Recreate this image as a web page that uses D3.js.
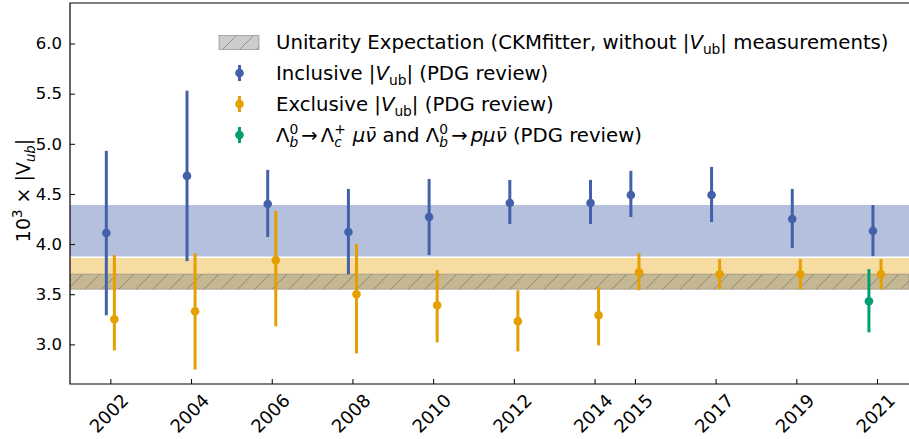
<!DOCTYPE html>
<html lang="en">
<head>
  <meta charset="UTF-8">
  <title>|Vub| history</title>
  <script src="https://d3js.org/d3.v7.min.js"></script>
  <style>
    body { margin: 0; padding: 0; background: #fff; }
    svg text { font-family: "DejaVu Sans", sans-serif; fill: #000; }
  </style>
</head>
<body>
  <div id="chart"></div>
  <script>
    // tick years on the x axis
    const years = [2002, 2004, 2006, 2008, 2010, 2012, 2014, 2015, 2017, 2019, 2021];

    // inclusive |Vub| (PDG review)
    const inclVal = [4.11, 4.68, 4.40, 4.12, 4.27, 4.41, 4.41, 4.49, 4.49, 4.25, 4.13];
    const inclLo  = [3.29, 3.83, 4.07, 3.70, 3.89, 4.20, 4.20, 4.27, 4.22, 3.96, 3.88];
    const inclHi  = [4.93, 5.53, 4.74, 4.55, 4.65, 4.64, 4.64, 4.73, 4.77, 4.55, 4.39];

    // exclusive |Vub| (PDG review)
    const exclVal = [3.25, 3.33, 3.84, 3.50, 3.39, 3.23, 3.29, 3.72, 3.70, 3.70, 3.70];
    const exclLo  = [2.94, 2.75, 3.18, 2.91, 3.02, 2.93, 2.99, 3.54, 3.55, 3.55, 3.55];
    const exclHi  = [3.89, 3.91, 4.33, 4.00, 3.74, 3.54, 3.57, 3.91, 3.85, 3.85, 3.85];

    // Lambda_b result
    const lbYears = [2021];
    const lbVal = [3.43];
    const lbLo  = [3.12];
    const lbHi  = [3.75];

    // horizontal bands [low, high]
    const inclBand = [3.87, 4.39];
    const exclBand = [3.55, 3.87];
    const ckmBand  = [3.55, 3.70];

    const yTicks = [3.0, 3.5, 4.0, 4.5, 5.0, 5.5, 6.0];

    const W = 909, H = 439;
    const mLeft = 70, mTop = 3, mBottom = 384;

    const blue = "#4361ab", orange = "#e69f00", green = "#009e73";

    const svg = d3.select("#chart").append("svg")
      .attr("width", W).attr("height", H);

    const x = d3.scaleLinear().domain([2001, 2022]).range([mLeft, mLeft + 21 * 40.35]);
    const y = d3.scaleLinear().domain([2.605, 6.404]).range([mBottom, mTop]);

    const defs = svg.append("defs");
    const hatch = defs.append("pattern")
      .attr("id", "hatch")
      .attr("patternUnits", "userSpaceOnUse")
      .attr("width", 17).attr("height", 17);
    hatch.append("path")
      .attr("d", "M-1,18 L18,-1 M-9,9 L9,-9 M8,26 L26,8")
      .attr("stroke", "#6e6e6e").attr("stroke-opacity", 0.6).attr("stroke-width", 1);

    defs.append("clipPath").attr("id", "plotclip")
      .append("rect").attr("x", mLeft).attr("y", mTop).attr("width", W - mLeft).attr("height", mBottom - mTop);

    const plot = svg.append("g").attr("clip-path", "url(#plotclip)");

    // bands
    plot.append("rect")
      .attr("x", mLeft).attr("width", W - mLeft)
      .attr("y", y(inclBand[1])).attr("height", y(inclBand[0]) - y(inclBand[1]))
      .attr("fill", blue).attr("fill-opacity", 0.4);
    plot.append("rect")
      .attr("x", mLeft).attr("width", W - mLeft)
      .attr("y", y(exclBand[1])).attr("height", y(exclBand[0]) - y(exclBand[1]))
      .attr("fill", orange).attr("fill-opacity", 0.37);
    plot.append("line")
      .attr("x1", mLeft).attr("x2", W)
      .attr("y1", y(exclBand[1])).attr("y2", y(exclBand[1]))
      .attr("stroke", "#fff").attr("stroke-width", 1.5);
    plot.append("rect")
      .attr("x", mLeft).attr("width", W - mLeft)
      .attr("y", y(ckmBand[1])).attr("height", y(ckmBand[0]) - y(ckmBand[1]))
      .attr("fill", "#808080").attr("fill-opacity", 0.4)
      .attr("stroke", "#808080").attr("stroke-opacity", 0.5).attr("stroke-width", 1);
    plot.append("rect")
      .attr("x", mLeft).attr("width", W - mLeft)
      .attr("y", y(ckmBand[1])).attr("height", y(ckmBand[0]) - y(ckmBand[1]))
      .attr("fill", "url(#hatch)");

    function errSeries(xs, vals, lo, hi, shift, color) {
      const g = plot.append("g");
      const d = xs.map((yr, i) => ({ yr: yr + shift, v: vals[i], lo: lo[i], hi: hi[i] }));
      g.selectAll("line").data(d).join("line")
        .attr("x1", p => x(p.yr)).attr("x2", p => x(p.yr))
        .attr("y1", p => y(p.lo)).attr("y2", p => y(p.hi))
        .attr("stroke", color).attr("stroke-width", 3);
      g.selectAll("circle").data(d).join("circle")
        .attr("cx", p => x(p.yr)).attr("cy", p => y(p.v))
        .attr("r", 4.3).attr("fill", color);
    }
    errSeries(years, inclVal, inclLo, inclHi, -0.1, blue);
    errSeries(years, exclVal, exclLo, exclHi, 0.1, orange);
    errSeries(lbYears, lbVal, lbLo, lbHi, -0.2, green);

    // axes
    const yAxis = svg.append("g").attr("transform", `translate(${mLeft},0)`)
      .call(d3.axisLeft(y).tickValues(yTicks).tickFormat(d3.format(".1f")).tickSizeInner(-5).tickSizeOuter(0).tickPadding(8));
    const xAxis = svg.append("g").attr("transform", `translate(0,${mBottom})`)
      .call(d3.axisBottom(x).tickValues(years).tickFormat(d3.format("d")).tickSizeInner(-5).tickSizeOuter(0));
    [yAxis, xAxis].forEach(a => {
      a.select(".domain").remove();
      a.selectAll(".tick line").attr("stroke", "#000").attr("stroke-width", 1);
    });
    yAxis.selectAll(".tick text").attr("font-size", 16.5).attr("font-family", "DejaVu Sans");

    const xfs = 18;
    xAxis.selectAll(".tick text").each(function() {
      const t = d3.select(this)
        .attr("font-size", xfs).attr("font-family", "DejaVu Sans")
        .attr("text-anchor", "middle").attr("dy", null).attr("y", 0)
        .attr("dominant-baseline", "central");
      const w = this.getComputedTextLength();
      const h = xfs * 0.8;
      const c = (w + h) / (2 * Math.SQRT2);
      t.attr("transform", `translate(-2,${8 + c}) rotate(-45)`);
    });

    // spines
    svg.append("path")
      .attr("d", `M${W},${mTop}H${mLeft}V${mBottom}H${W}`)
      .attr("fill", "none").attr("stroke", "#000").attr("stroke-width", 1.2);

    // rich text helper: segs = [{t, i, s:'sub'|'sup', stack, dx}]
    function rich(sel, segs, fs) {
      let cur = 0;
      let prev = null;
      segs.forEach(sg => {
        const small = sg.s ? 0.7 : 1;
        const target = sg.s === "sub" ? 0.24 * fs : sg.s === "sup" ? -0.42 * fs : 0;
        const ts = sel.append("tspan")
          .text(sg.t)
          .attr("font-size", fs * small)
          .attr("font-style", sg.i ? "italic" : "normal")
          .attr("dy", target - cur);
        if (sg.stack && prev) ts.attr("dx", -prev.node().getComputedTextLength());
        else if (sg.dx) ts.attr("dx", sg.dx);
        cur = target;
        prev = ts;
      });
    }

    // y label
    const yl = svg.append("text")
      .attr("transform", `translate(30,${(mTop + mBottom) / 2 - 3}) rotate(-90)`)
      .attr("text-anchor", "middle");
    rich(yl, [
      { t: "10" }, { t: "3", s: "sup" }, { t: " × |V" }, { t: "ub", i: true, s: "sub" }, { t: "|" }
    ], 19);

    // legend
    const lg = svg.append("g");
    const lx = 276, rows = [42, 73, 104, 135];
    lg.append("rect").attr("x", 219).attr("y", 35.5).attr("width", 40).attr("height", 14)
      .attr("fill", "#808080").attr("fill-opacity", 0.4)
      .attr("stroke", "#808080").attr("stroke-opacity", 0.6);
    lg.append("rect").attr("x", 219).attr("y", 35.5).attr("width", 40).attr("height", 14)
      .attr("fill", "url(#hatch)");
    [[blue, rows[1]], [orange, rows[2]], [green, rows[3]]].forEach(([c, ry]) => {
      lg.append("line").attr("x1", 239.5).attr("x2", 239.5).attr("y1", ry - 8).attr("y2", ry + 8)
        .attr("stroke", c).attr("stroke-width", 3);
      lg.append("circle").attr("cx", 239.5).attr("cy", ry).attr("r", 4.3).attr("fill", c);
    });
    const fsL = 19.7, bl = 7;
    rich(lg.append("text").attr("x", lx).attr("y", rows[0] + bl), [
      { t: "Unitarity Expectation (CKMfitter, without |" }, { t: "V", i: true }, { t: "ub", s: "sub" },
      { t: "| measurements)" }
    ], fsL);
    rich(lg.append("text").attr("x", lx).attr("y", rows[1] + bl), [
      { t: "Inclusive |" }, { t: "V", i: true }, { t: "ub", s: "sub" }, { t: "| (PDG review)" }
    ], fsL);
    rich(lg.append("text").attr("x", lx).attr("y", rows[2] + bl), [
      { t: "Exclusive |" }, { t: "V", i: true }, { t: "ub", s: "sub" }, { t: "| (PDG review)" }
    ], fsL);
    rich(lg.append("text").attr("x", lx).attr("y", rows[3] + bl), [
      { t: "Λ" }, { t: "b", i: true, s: "sub" }, { t: "0", s: "sup", stack: true },
      { t: "→", dx: 3 }, { t: "Λ", dx: 3 }, { t: "c", i: true, s: "sub" }, { t: "+", s: "sup", stack: true },
      { t: "μν\u0304", i: true, dx: 7 }, { t: " and Λ" }, { t: "b", i: true, s: "sub" }, { t: "0", s: "sup", stack: true },
      { t: "→", dx: 3 }, { t: "pμν\u0304", i: true, dx: 3 }, { t: " (PDG review)" }
    ], fsL);
  </script>
</body>
</html>
